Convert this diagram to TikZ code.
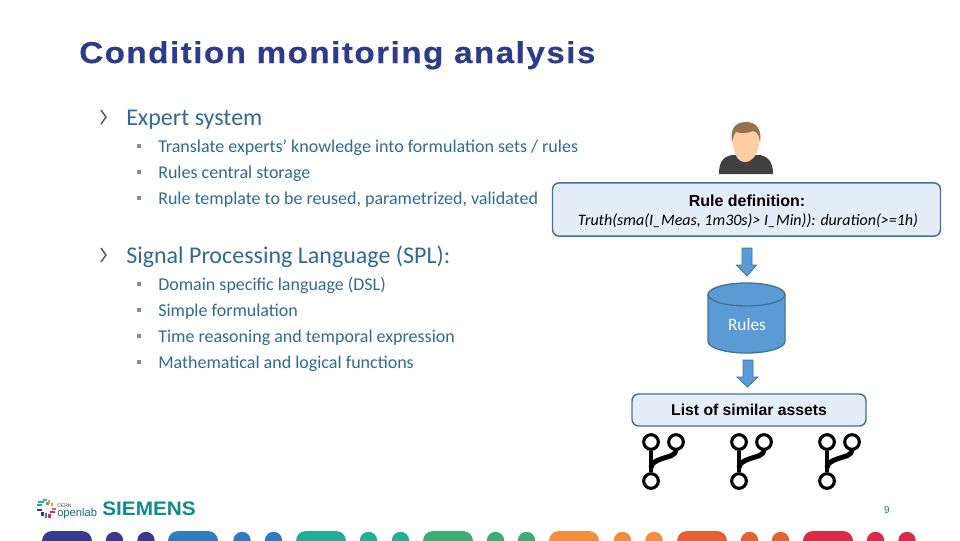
\documentclass[tikz,border=0pt]{standalone}
\usepackage{fontspec}
\setmainfont{Carlito}
\newfontfamily\arialf{Liberation Sans}
\newfontfamily\titlef[LetterSpace=5,FakeStretch=1.1,FakeBold=0.5]{Liberation Sans}
\newfontfamily\siemf[FakeStretch=1.06]{Liberation Sans}
\usetikzlibrary{shapes.geometric}
\definecolor{titleblue}{HTML}{2E3A8C}
\definecolor{bodyblue}{HTML}{2F6A94}
\definecolor{chevgrey}{HTML}{5A5A5A}
\definecolor{boxfill}{HTML}{E4EEF8}
\definecolor{boxline}{HTML}{41719C}
\definecolor{dbfill}{HTML}{5B9BD5}
\definecolor{sieteal}{HTML}{0E8C92}
\definecolor{cA}{HTML}{353C8F}
\definecolor{cB}{HTML}{2F7DC0}
\definecolor{cC}{HTML}{22AD9A}
\definecolor{cD}{HTML}{3BAE72}
\definecolor{cE}{HTML}{F28E3C}
\definecolor{cF}{HTML}{E85F33}
\definecolor{cG}{HTML}{DB2A48}
\tikzset{
  x=0.75pt,y=-0.75pt,
  lvlone/.style={anchor=base west,inner sep=0,text=bodyblue,font=\fontsize{18}{18}\selectfont},
  lvltwo/.style={anchor=base west,inner sep=0,text=bodyblue,font=\fontsize{13.5}{13.5}\selectfont},
  sqbullet/.style={fill=black!45,minimum size=3.6pt,inner sep=0,draw=none},
  chev/.style={draw=chevgrey,line width=1.1pt,line join=miter},
  infobox/.style={draw=boxline,fill=boxfill,line width=1.1pt,rounded corners=5pt},
  blockarrow/.style={fill=dbfill,draw=boxline,line width=0.6pt},
  branchline/.style={draw=black,line width=3.7pt},
  branchring/.style={circle,draw=black,fill=white,line width=2.3pt,minimum size=11pt,inner sep=0},
}
\newcommand{\chevmark}[1]{\draw[chev] (101,#1-7) -- (106,#1) -- (101,#1+7);}
\newcommand{\branchicon}[2]{%
  \node[branchring] (#2a) at (#1,442) {};
  \node[branchring] (#2b) at (#1+25,442) {};
  \node[branchring] (#2c) at (#1,481) {};
  \begin{pgfonlayer}{bg}
  \draw[branchline] (#2a) -- (#2c);
  \draw[branchline] (#2b.center) -- (#1+25,449) .. controls (#1+25,456) and (#1+18,456) .. (#1+10,459) .. controls (#1+5,461) and (#1,463) .. (#1,468);
  \end{pgfonlayer}}
\pgfdeclarelayer{bg}
\pgfsetlayers{bg,main}
\begin{document}
\begin{tikzpicture}
\useasboundingbox (0,0) rectangle (960,540);
% title
\node[anchor=base west,inner sep=0,text=titleblue,font=\titlef\bfseries\fontsize{22.6}{22.6}\selectfont] (title) at (79,63) {Condition monitoring analysis};
% level one
\chevmark{117}
\node[lvlone] (exp) at (126,125.5) {Expert system};
\chevmark{255}
\node[lvlone] (spl) at (126,263.5) {Signal Processing Language (SPL):};
% level two
\foreach \yy/\tt in {151/{Translate experts’ knowledge into formulation sets / rules},177/{Rules central storage},203/{Rule template to be reused, parametrized, validated},289/{Domain specific language (DSL)},315/{Simple formulation},341/{Time reasoning and temporal expression},367/{Mathematical and logical functions}}{
  \node[sqbullet] at (139,\yy-5) {};
  \node[lvltwo] at (158,\yy+1) {\tt};
}
% person
\begin{scope}
\fill[black!75!white] (719,174) .. controls (719,163) and (722,157) .. (732,155) -- (760,155) .. controls (769,157) and (773,163) .. (773,174) -- cycle;
\fill[orange!35!white!95!brown] (745,162) .. controls (737,162) and (733,152) .. (733,142) .. controls (733,130) and (738,127) .. (746,127) .. controls (754,127) and (759,130) .. (759,142) .. controls (759,152) and (753,162) .. (745,162) -- cycle;
\fill[brown!70!black!85!white] (732,143) .. controls (730,130) and (734,122) .. (746,122) .. controls (757,122) and (762,130) .. (760,143) .. controls (759,136) and (758,132) .. (753,131) .. controls (747,134) and (740,133) .. (736,132) .. controls (734,134) and (733,138) .. (732,143) -- cycle;
\end{scope}
% rule box
\node[infobox,minimum width=291pt,minimum height=40pt,inner sep=0] (rulebox) at (746.5,209.5) {};
\node[inner sep=0,anchor=base,font=\arialf\fontsize{12}{12}\selectfont] (ruletitle) at (747,206) {\bfseries Rule definition:};
\node[inner sep=0,anchor=base,font=\fontsize{12}{12}\selectfont\itshape] (ruletext) at (748,225) {Truth(sma(I\_Meas, 1m30s)> I\_Min)): duration(>=1h)};
% arrow 1
\draw[blockarrow] (742,248) -- (752,248) -- (752,265) -- (756.5,265) -- (747,276) -- (736.5,265) -- (742,265) -- cycle;
% cylinder
\fill[dbfill] (708,294.5) arc[x radius=38.5,y radius=11.5,start angle=180,end angle=360] -- (785,341.5) arc[x radius=38.5,y radius=11.5,start angle=0,end angle=180] -- cycle;
\draw[boxline,line width=1pt] (708,294.5) -- (708,341.5) arc[x radius=38.5,y radius=11.5,start angle=180,end angle=0] -- (785,294.5);
\draw[boxline,line width=1pt] (746.5,294.5) ellipse[x radius=38.5,y radius=11.5];
\node[inner sep=0,anchor=base,text=white,font=\fontsize{13}{13}\selectfont] (rules) at (747,330) {Rules};
% arrow 2
\draw[blockarrow] (743,360) -- (753,360) -- (753,377) -- (758,377) -- (747.5,387) -- (737,377) -- (743,377) -- cycle;
% list box
\node[infobox,minimum width=175.5pt,minimum height=24pt,inner sep=0] (listbox) at (749,410) {};
\node[inner sep=0,anchor=base,font=\arialf\fontsize{11.8}{12}\selectfont] (listlabel) at (749,415) {\bfseries List of similar assets};
% branch icons
\branchicon{651}{p}
\branchicon{739}{q}
\branchicon{827}{r}
% logo
\foreach \xa/\ya/\xb/\yb/\cc in {37/504/42/506/cC,38/501/44/503/cC,43/499/47/501/cD,46/502/49/505/cD,48/500/50/504/cE,51/503/53/506/cE,37/509/42/511/cA,41/512/44/516/cA,45/513/47/518/cB,48/514/51/518/cG,50/511/55/513/cG,52/508/56/510/cF}{
  \fill[\cc] (\xa,\ya) rectangle (\xb,\yb);
}
\node[anchor=base west,inner sep=0,text=black!70,font=\arialf\fontsize{3.8}{4}\selectfont] (cern) at (57,507) {CERN};
\node[anchor=base west,inner sep=0,text=sieteal!80!black,font=\arialf\fontsize{8.4}{8}\selectfont] (openlab) at (57,516) {openlab};
\node[anchor=base west,inner sep=0,text=sieteal,font=\siemf\bfseries\fontsize{14.7}{14}\selectfont] (siemens) at (102,515.5) {SIEMENS};
% page number
\node[inner sep=0,anchor=base,text=sieteal,font=\arialf\fontsize{7.5}{8}\selectfont] (pagenum) at (887,513) {9};
% bottom strip
\foreach \xa/\xb/\aa/\ab/\cc in {42/92/114.5/146/cA,168/218/242/273.5/cB,296/346/368.5/400.5/cC,423/473/495.5/526.5/cD,549/599/622.5/654/cE,677/727/749.5/780.5/cF,803/853/875.5/907/cG}{
  \begin{scope}
  \clip (0,0) rectangle (960,540);
  \fill[\cc,rounded corners=7.5pt] (\xa,531) rectangle (\xb,560);
  \fill[\cc] (\aa,540.5) circle[radius=8.7];
  \fill[\cc] (\ab,540.5) circle[radius=8.7];
  \end{scope}
}
\end{tikzpicture}
\end{document}
